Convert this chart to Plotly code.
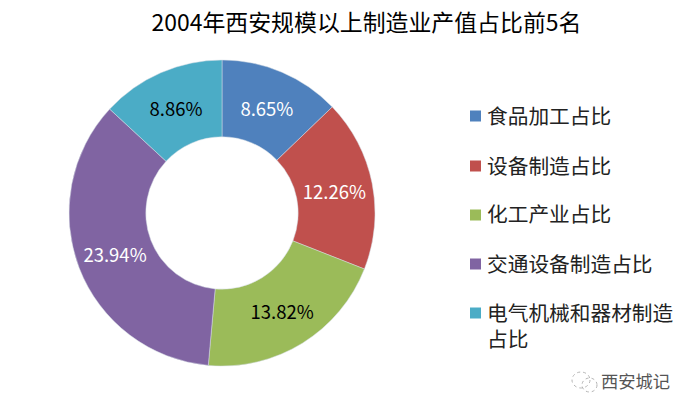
import plotly.graph_objects as go

# ── Data ─────────────────────────────────────────────────────────────────
CATEGORIES = ["食品加工占比", "设备制造占比", "化工产业占比", "交通设备制造占比", "电气机械和器材制造<br>占比"]
VALUES = [8.65, 12.26, 13.82, 23.94, 8.86]
LABELS = ["8.65%", "12.26%", "13.82%", "23.94%", "8.86%"]
COLORS = ["#4F81BD", "#C0504D", "#9BBB59", "#8064A2", "#4BACC6"]
TEXT_COLORS = ["#FFFFFF", "#FFFFFF", "#000000", "#FFFFFF", "#000000"]
TITLE = "2004年西安规模以上制造业产值占比前5名"
WATERMARK = "西安城记"

FONT = "Noto Sans CJK SC, Liberation Sans, sans-serif"
W, H = 694, 413
LEGEND_ROWS = [116, 166, 215, 264, 313]  # swatch centres, px from the top
LINE_GAP = 26


def px_x(x):
    return x / W


def px_y(y):
    return 1 - y / H


fig = go.Figure(go.Pie(
    labels=CATEGORIES, values=VALUES, text=LABELS,
    textinfo="text", textposition="inside", insidetextorientation="horizontal",
    hole=0.498, sort=False, direction="clockwise", rotation=0,
    marker=dict(colors=COLORS, line=dict(color="#D5DDE5", width=0.5)),
    textfont=dict(size=18.5, color=TEXT_COLORS),
    domain=dict(x=[px_x(69), px_x(375)], y=[px_y(366), px_y(60)]),
    showlegend=False,
))

# The legend rows sit 49px apart, wider than the native legend allows
annotations = []
shapes = []
for name, color, row in zip(CATEGORIES, COLORS, LEGEND_ROWS):
    shapes.append(dict(type="rect", xref="paper", yref="paper",
                       x0=px_x(470), x1=px_x(481), y0=px_y(row - 5.5), y1=px_y(row + 5.5),
                       fillcolor=color, line=dict(width=0)))
    for i, line in enumerate(name.split("<br>")):
        annotations.append(dict(text=line, x=px_x(485), y=px_y(row - 1.5 + i * LINE_GAP), xref="paper", yref="paper",
                                xanchor="left", yanchor="middle", align="left", showarrow=False,
                                font=dict(size=20.7, color="#222222")))

# Watermark: speech-bubble icon and account name
for x0, y0, x1, y1 in [(572, 372, 590, 388), (582, 378, 597, 392)]:
    shapes.append(dict(type="circle", xref="paper", yref="paper",
                       x0=px_x(x0), x1=px_x(x1), y0=px_y(y1), y1=px_y(y0),
                       fillcolor="rgba(0,0,0,0)", line=dict(color="#B5B5B5", width=1, dash="dot")))
annotations.append(dict(text=WATERMARK, x=px_x(672), y=px_y(380), xref="paper", yref="paper",
                        xanchor="right", yanchor="middle", showarrow=False,
                        font=dict(size=17.3, color="#555555")))

fig.update_layout(
    width=W, height=H,
    paper_bgcolor="#FFFFFF",
    font=dict(family=FONT, color="#000000"),
    margin=dict(l=0, r=0, t=0, b=0),
    title=dict(text=TITLE, x=366.5 / W, xanchor="center", y=px_y(23), yanchor="middle",
               font=dict(size=22.9)),
    annotations=annotations,
    shapes=shapes,
)

# Drop the page's default 8px body margin so the figure fills the window
fig.write_html("out.html", config=dict(displayModeBar=False),
               post_script="document.body.style.margin = '0';")
